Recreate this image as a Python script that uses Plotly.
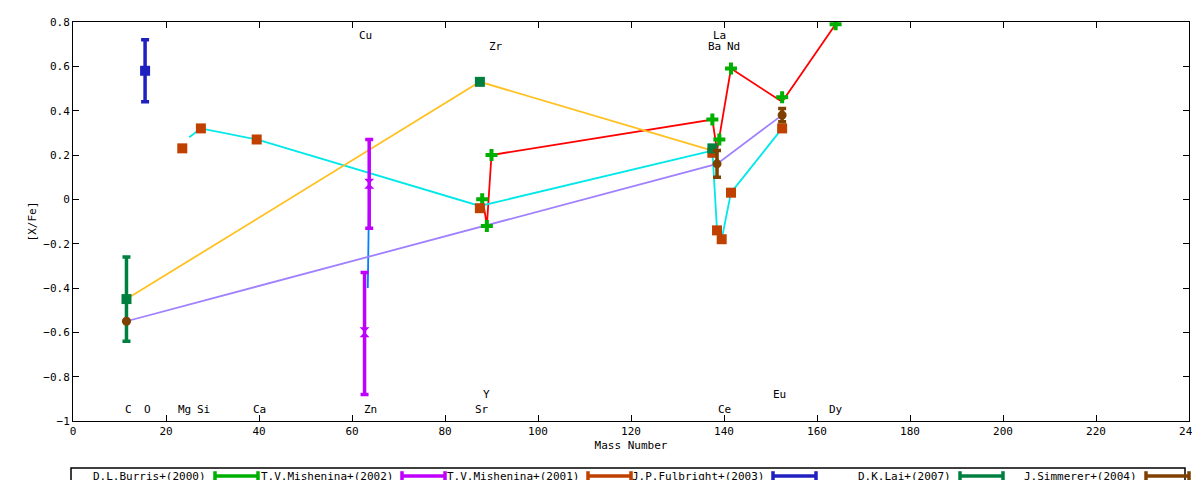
import plotly.graph_objects as go

# element labels (mass number, y position, text)
elem_x = [12, 16, 24, 28, 40, 64, 88, 140, 164, 89, 152, 63, 91, 139, 138, 142]
elem_y = [-0.95, -0.95, -0.95, -0.95, -0.95, -0.95, -0.95, -0.95, -0.95, -0.88, -0.88,
          0.74, 0.69, 0.74, 0.69, 0.69]
elem_txt = ["C", "O", "Mg", "Si", "Ca", "Zn", "Sr", "Ce", "Dy", "Y", "Eu",
            "Cu", "Zr", "La", "Ba", "Nd"]

# D.L.Burris+(2000)
burris_x = [88, 89, 90, 137.5, 139, 141.5, 152.5, 164]
burris_y = [0.0, -0.12, 0.2, 0.36, 0.27, 0.59, 0.46, 0.79]
burris_line_x = [88, 88.5, 89, 90, 137.5, 138.5, 141.5, 152.5, 164]
burris_line_y = [0.0, -0.05, -0.12, 0.2, 0.36, 0.22, 0.59, 0.44, 0.79]

# T.V.Mishenina+(2002)
mish02_x = [63.7, 62.7]
mish02_y = [0.07, -0.60]
mish02_up = [0.20, 0.27]
mish02_dn = [0.20, 0.28]
mish02_line_x = [63.7, 63.4]
mish02_line_y = [0.07, -0.40]

# T.V.Mishenina+(2001)
mish01_x = [23.5, 27.5, 39.5, 87.5, 137.5, 138.5, 139.5, 141.5, 152.5]
mish01_y = [0.23, 0.32, 0.27, -0.04, 0.21, -0.14, -0.18, 0.03, 0.32]
mish01_line_x = [25, 27.5, 39.5, 87.5, 137.5, 138.5, 139.5, 141.5, 152.5]
mish01_line_y = [0.28, 0.32, 0.27, -0.03, 0.22, -0.14, -0.18, 0.03, 0.32]

# J.P.Fulbright+(2003)
fulb_x = [15.5]
fulb_y = [0.58]
fulb_err = [0.14]

# D.K.Lai+(2007)
lai_x = [11.5, 87.5, 137.5]
lai_y = [-0.45, 0.53, 0.23]
lai_err = [0.19, 0, 0]
lai_line_y = [-0.45, 0.53, 0.22]

# J.Simmerer+(2004)
simm_x = [11.5, 138.5, 152.5]
simm_y = [-0.55, 0.16, 0.38]
simm_err = [0, 0.06, 0.03]

fig = go.Figure()

lw = 1.8
fig.add_trace(go.Scatter(x=burris_line_x, y=burris_line_y, mode="lines",
                         line=dict(color="#ff0000", width=lw), showlegend=False))
fig.add_trace(go.Scatter(x=mish02_line_x, y=mish02_line_y, mode="lines",
                         line=dict(color="#0080ff", width=lw), showlegend=False))
fig.add_trace(go.Scatter(x=mish01_line_x, y=mish01_line_y, mode="lines",
                         line=dict(color="#00e8e8", width=lw), showlegend=False))
fig.add_trace(go.Scatter(x=lai_x, y=lai_line_y, mode="lines",
                         line=dict(color="#ffc020", width=lw), showlegend=False))
fig.add_trace(go.Scatter(x=simm_x, y=simm_y, mode="lines",
                         line=dict(color="#a080ff", width=lw), showlegend=False))

def pts(x, y, color, symbol, size, up=None, dn=None):
    ey = None
    if up is not None:
        ey = dict(type="data", array=up, arrayminus=dn if dn is not None else up,
                  color=color, thickness=3.5, width=4)
    fig.add_trace(go.Scatter(x=x, y=y, mode="markers", error_y=ey,
                             marker=dict(color=color, symbol=symbol, size=size),
                             showlegend=False))

pts(burris_x, burris_y, "#00b000", "cross", 10)
pts(mish02_x, mish02_y, "#c000ff", "hourglass", 10, mish02_up, mish02_dn)
pts(mish01_x, mish01_y, "#c04000", "square", 10)
pts(fulb_x, fulb_y, "#2020c0", "square", 10, fulb_err)
pts(lai_x, lai_y, "#008040", "square", 10, lai_err)
pts(simm_x, simm_y, "#804000", "circle", 9, simm_err)

for x, y, t in zip(elem_x, elem_y, elem_txt):
    fig.add_annotation(x=x, y=y, text=t, showarrow=False,
                       font=dict(family="DejaVu Sans Mono", size=11, color="black"))

# legend box along the bottom
leg_names = ["D.L.Burris+(2000)", "T.V.Mishenina+(2002)", "T.V.Mishenina+(2001)",
             "J.P.Fulbright+(2003)", "D.K.Lai+(2007)", "J.Simmerer+(2004)"]
leg_colors = ["#00b000", "#c000ff", "#c04000", "#2020c0", "#008040", "#804000"]
leg_end_px = [200, 387, 573, 758, 945, 1131]
x0, pw, ph = 65, 1116, 399
def px(p):
    return (p - x0) / pw
ly = (413 - 468) / ph
fig.add_shape(type="rect", xref="paper", yref="paper", x0=px(63), x1=px(1177),
              y0=(413 - 476) / ph, y1=(413 - 460) / ph, line=dict(color="black", width=1.5))
for n, c, e in zip(leg_names, leg_colors, leg_end_px):
    fig.add_annotation(xref="paper", yref="paper", x=px(e), y=ly, text=n,
                       xanchor="right", yanchor="middle", showarrow=False,
                       font=dict(family="DejaVu Sans Mono", size=11, color="black"))
    s0, s1 = px(e + 7), px(e + 50)
    fig.add_shape(type="line", xref="paper", yref="paper", x0=s0, x1=s1,
                  y0=ly, y1=ly, line=dict(color=c, width=3.5))
    for s in (s0, s1):
        fig.add_shape(type="line", xref="paper", yref="paper", x0=s, x1=s,
                      y0=ly - 0.012, y1=ly + 0.012, line=dict(color=c, width=3.5))

ax = dict(showline=True, linecolor="black", linewidth=1, mirror="allticks",
          ticks="inside", ticklen=6, tickcolor="black", showgrid=False, automargin=False,
          zeroline=False, tickfont=dict(family="DejaVu Sans Mono", size=11, color="black"))
fig.update_xaxes(range=[0, 240], dtick=20, title=dict(text="Mass Number", standoff=4,
                 font=dict(family="DejaVu Sans Mono", size=11, color="black")), **ax)
fig.update_yaxes(range=[-1, 0.8], dtick=0.2, tickformat="~g",
                 title=dict(text="[X/Fe]", standoff=4,
                            font=dict(family="DejaVu Sans Mono", size=11, color="black")), **ax)
fig.update_layout(width=1200, height=480, plot_bgcolor="white", paper_bgcolor="white",
                  margin=dict(l=65, r=19, t=14, b=67), showlegend=False)
fig.write_html("out.html")
